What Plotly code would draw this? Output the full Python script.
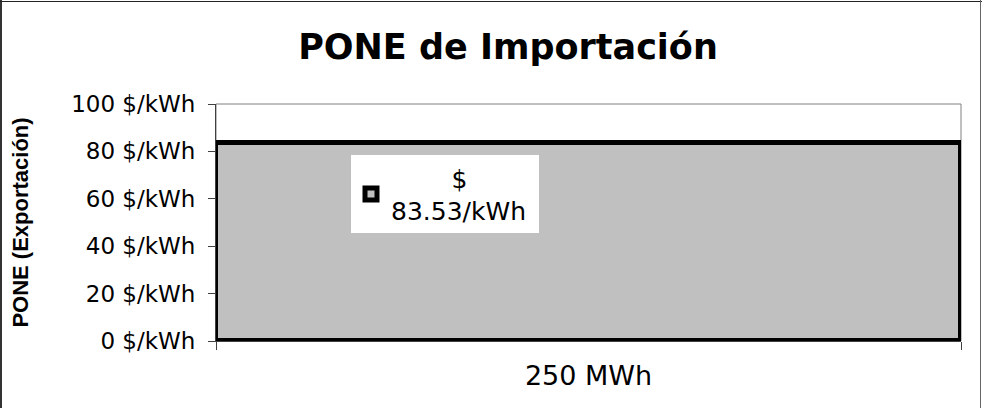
import plotly.graph_objects as go

categories = ["250 MWh"]
values = [83.53]
y_tickvals = [0, 20, 40, 60, 80, 100]
title_text = "PONE de Importación"
y_title = "PONE (Exportación)"
unit = "$/kWh"

NB = "\u00a0"
series_name = NB * 7 + "\u2009$<br>" + f"{values[0]:.2f}/kWh" + NB

FONT = "DejaVu Sans, Liberation Sans, Arial, sans-serif"
FONT_Y = "Liberation Sans, Arial, sans-serif"

fig = go.Figure()
fig.add_trace(go.Bar(
    x=categories,
    y=values,
    width=1,
    name=series_name,
    marker=dict(color="#C0C0C0", line=dict(color="black", width=5)),
    showlegend=True,
))

W, H = 982, 408
L, R, T, B = 216, 21, 104, 67
pw, ph = W - L - R, H - T - B

def px_x(p):
    return (p - L) / pw

def px_y(p):
    return (H - B - p) / ph

fig.update_layout(
    width=W, height=H,
    margin=dict(l=L, r=R, t=T, b=B),
    paper_bgcolor="white",
    plot_bgcolor="white",
    font=dict(family=FONT, color="black"),
    title=dict(text=f"<b>{title_text}</b>", x=508 / W, xanchor="center",
               y=1 - 47 / H, yanchor="middle", yref="container",
               font=dict(size=35, family=FONT, color="black")),
    showlegend=True,
    legend=dict(x=px_x(351), y=px_y(155), xanchor="left", yanchor="top",
                bgcolor="white", borderwidth=0,
                font=dict(size=25, family=FONT, color="black"),
                itemwidth=30),
    bargap=0,
    xaxis=dict(
        type="category", range=[-0.5, 0.5],
        tickson="boundaries", ticks="outside", ticklen=8, tickcolor="#404040",
        showline=True, linecolor="#404040", linewidth=1,
        showgrid=False, zeroline=False,
        tickfont=dict(size=27, family=FONT, color="black"),
        ticklabelstandoff=11,
    ),
    yaxis=dict(
        range=[0, 100], tickvals=y_tickvals,
        ticktext=[f"{v} {unit}" for v in y_tickvals],
        ticks="outside", ticklen=7, tickcolor="#404040",
        showline=True, linecolor="#404040", linewidth=1,
        showgrid=False, zeroline=False,
        tickfont=dict(size=23, family=FONT, color="black"),
        ticklabelstandoff=8,
        title=dict(text=f"<b>{y_title}</b>", standoff=36,
                   font=dict(size=22, family=FONT_Y, color="black")),
    ),
    shapes=[
        dict(type="rect", xref="paper", yref="paper", x0=0, x1=1, y0=0, y1=1,
             line=dict(color="#808080", width=1), layer="below"),
        dict(type="line", xref="paper", yref="paper",
             x0=px_x(1), x1=px_x(1), y0=px_y(408), y1=px_y(0),
             line=dict(color="#333333", width=2)),
        dict(type="line", xref="paper", yref="paper",
             x0=px_x(0), x1=px_x(982), y0=px_y(1.5), y1=px_y(1.5),
             line=dict(color="#222222", width=1)),
        dict(type="line", xref="paper", yref="paper",
             x0=px_x(980.5), x1=px_x(980.5), y0=px_y(408), y1=px_y(0),
             line=dict(color="#666666", width=1)),
    ],
)

fig.write_html("out.html", config={"displayModeBar": False},
               post_script="document.body.style.margin='0';")
